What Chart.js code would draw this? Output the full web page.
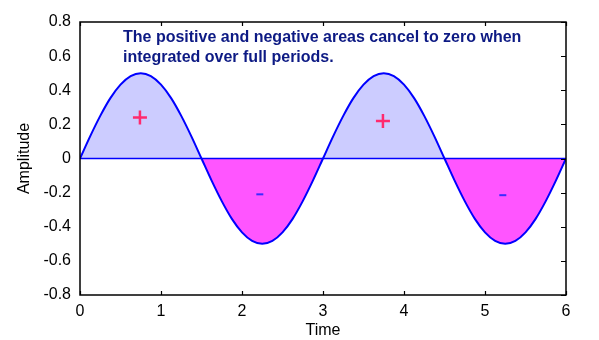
<!DOCTYPE html>
<html>
<head>
<meta charset="utf-8">
<script src="https://cdn.jsdelivr.net/npm/chart.js@4/dist/chart.umd.min.js"></script>
<style>
  html, body { margin: 0; padding: 0; background: #ffffff; }
  canvas { display: block; }
</style>
</head>
<body>
<canvas id="c" width="599" height="340"></canvas>
<script>
// Sampled signal: time (s) and amplitude
const times = [
  0, 0.125, 0.25, 0.375, 0.5, 0.625, 0.75, 0.875, 1, 1.125, 1.25, 1.375,
  1.5, 1.625, 1.75, 1.875, 2, 2.125, 2.25, 2.375, 2.5, 2.625, 2.75, 2.875,
  3, 3.125, 3.25, 3.375, 3.5, 3.625, 3.75, 3.875, 4, 4.125, 4.25, 4.375,
  4.5, 4.625, 4.75, 4.875, 5, 5.125, 5.25, 5.375, 5.5, 5.625, 5.75, 5.875, 6
];
const amplitude = [
  0, 0.13, 0.25, 0.354, 0.433, 0.483, 0.5, 0.483, 0.433, 0.354, 0.25, 0.13,
  0, -0.13, -0.25, -0.354, -0.433, -0.483, -0.5, -0.483, -0.433, -0.354, -0.25, -0.13,
  0, 0.13, 0.25, 0.354, 0.433, 0.483, 0.5, 0.483, 0.433, 0.354, 0.25, 0.13,
  0, -0.13, -0.25, -0.354, -0.433, -0.483, -0.5, -0.483, -0.433, -0.354, -0.25, -0.13,
  0
];

// Sign markers placed inside each lobe
const plusX = [0.74, 3.74];
const plusY = [0.24, 0.22];
const minusX = [2.22, 5.22];
const minusY = [-0.21, -0.215];

// Axis ticks
const xTicks = [0, 1, 2, 3, 4, 5, 6];
const yTicks = [-0.8, -0.6, -0.4, -0.2, 0, 0.2, 0.4, 0.6, 0.8];

const noteLines = [
  'The positive and negative areas cancel to zero when',
  'integrated over full periods.'
];

const FONT = '"Liberation Sans", Arial, sans-serif';

// Box frame with inward-pointing tick marks, plus the note text
const framePlugin = {
  id: 'frame',
  afterDraw(chart) {
    const { ctx, chartArea: a, scales: { x, y } } = chart;
    ctx.save();
    ctx.strokeStyle = '#000000';
    ctx.lineWidth = 1.5;
    ctx.strokeRect(a.left, a.top, a.right - a.left, a.bottom - a.top);
    ctx.lineWidth = 1.2;
    ctx.beginPath();
    xTicks.forEach(v => {
      const px = Math.round(x.getPixelForValue(v)) + 0.5;
      ctx.moveTo(px, a.bottom); ctx.lineTo(px, a.bottom - 4);
      ctx.moveTo(px, a.top); ctx.lineTo(px, a.top + 4);
    });
    yTicks.forEach(v => {
      const py = Math.round(y.getPixelForValue(v)) + 0.5;
      ctx.moveTo(a.right, py); ctx.lineTo(a.right - 5, py);
    });
    ctx.stroke();

    ctx.fillStyle = '#0d1a84';
    ctx.font = 'bold 16px ' + FONT;
    ctx.textAlign = 'left';
    ctx.textBaseline = 'alphabetic';
    noteLines.forEach((t, i) => ctx.fillText(t, 123, 42 + i * 20));
    ctx.restore();
  }
};

new Chart(document.getElementById('c'), {
  type: 'line',
  data: {
    datasets: [
      {
        label: 'signal',
        data: times.map((t, i) => ({ x: t, y: amplitude[i] })),
        borderColor: '#0000ff',
        borderWidth: 2,
        pointRadius: 0,
        cubicInterpolationMode: 'monotone',
        fill: { target: 'origin', above: '#ccccff', below: '#ff55ff' },
        order: 3
      },
      {
        label: 'zero',
        data: [{ x: times[0], y: 0 }, { x: times[times.length - 1], y: 0 }],
        borderColor: '#0000ff',
        borderWidth: 1.5,
        pointRadius: 0,
        fill: false,
        order: 2
      },
      {
        type: 'scatter',
        label: 'plus',
        data: plusX.map((v, i) => ({ x: v, y: plusY[i] })),
        pointStyle: 'cross',
        pointRadius: 7,
        borderColor: '#ff2a6e',
        borderWidth: 2.5,
        order: 1
      },
      {
        type: 'scatter',
        label: 'minus',
        data: minusX.map((v, i) => ({ x: v, y: minusY[i] })),
        pointStyle: 'line',
        pointRadius: 3.5,
        borderColor: '#3a2aff',
        borderWidth: 2,
        order: 1
      }
    ]
  },
  options: {
    responsive: false,
    animation: false,
    devicePixelRatio: 1,
    layout: { padding: { left: 0, top: 22, right: 33, bottom: 0 } },
    plugins: { legend: { display: false }, tooltip: { enabled: false } },
    scales: {
      x: {
        type: 'linear',
        min: 0, max: 6,
        afterBuildTicks: s => { s.ticks = xTicks.map(v => ({ value: v })); },
        ticks: { color: '#000000', font: { family: FONT, size: 16 }, padding: 7, maxRotation: 0 },
        grid: { display: false, drawTicks: false },
        border: { display: false },
        title: { display: true, text: 'Time', color: '#000000', font: { family: FONT, size: 16 }, padding: { top: 0, bottom: 0 } },
        afterFit: s => { s.height = 45; }
      },
      y: {
        type: 'linear',
        min: -0.8, max: 0.8,
        afterBuildTicks: s => { s.ticks = yTicks.map(v => ({ value: v })); },
        ticks: { color: '#000000', font: { family: FONT, size: 16 }, padding: 9 },
        grid: { display: false, drawTicks: false },
        border: { display: false },
        title: { display: true, text: 'Amplitude', color: '#000000', font: { family: FONT, size: 16 }, padding: { top: 15, bottom: 0 } },
        afterFit: s => { s.width = 80; }
      }
    }
  },
  plugins: [framePlugin]
});
</script>
</body>
</html>
